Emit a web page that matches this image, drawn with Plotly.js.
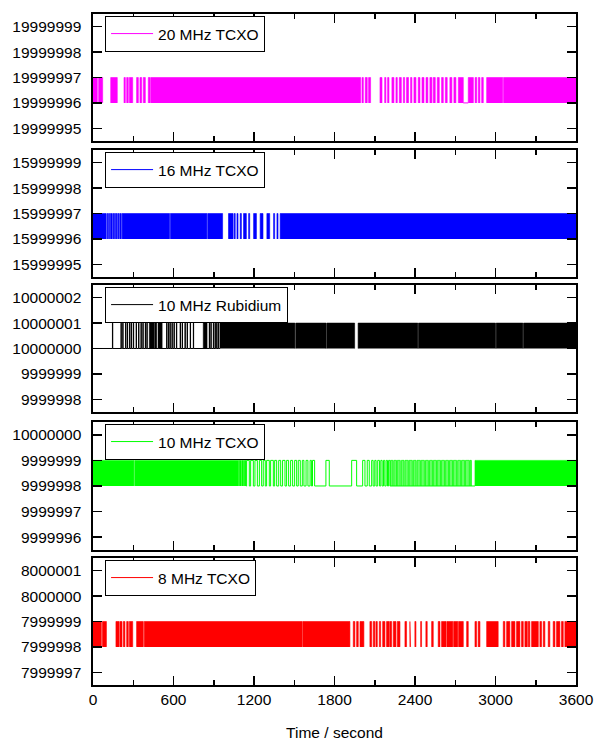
<!DOCTYPE html>
<html><head><meta charset="utf-8">
<script src="https://cdn.plot.ly/plotly-3.0.1.min.js"></script>
<style>html,body{margin:0;padding:0;background:#fff}#chart{width:594px;height:743px}</style>
</head><body><div id="chart"></div>
<script>
// ---- data (time in seconds, frequency counter reading in Hz) ----
const seriesNames = ['20 MHz TCXO', '16 MHz TCXO', '10 MHz Rubidium', '10 MHz TCXO', '8 MHz TCXO'];
const seriesColors = ['#ff00ff', '#0000ff', '#000000', '#00ff00', '#ff0000'];
const lowLevels  = [19999996, 15999996, 10000000, 9999998, 7999998];
const highLevels = [19999997, 15999997, 10000001, 9999999, 7999999];
const yTickLow   = [19999995, 15999995, 9999998, 9999996, 7999997];
const yTickHigh  = [19999999, 15999999, 10000002, 10000000, 8000001];

// intervals where the reading toggles faster than the plot resolves (solid band)
const bands20 = [[0,32],[42,72],[132,181],[231,241],[251,263],[271,296],[325,338],[350,363],[375,390],[412,425],[430,1995],[2005,2015],[2029,2044],[2054,2069],[2139,2154],[2174,2183],[2196,2206],[2228,2243],[2258,2268],[2283,2298],[2313,2323],[2337,2352],[2367,2377],[2392,2407],[2424,2437],[2452,2467],[2482,2496],[2511,2526],[2536,2551],[2566,2581],[2598,2611],[2626,2640],[2660,2675],[2690,2705],[2723,2760],[2797,2835],[2848,2860],[2872,2884],[2897,2909],[2934,3054],[3060,3600]];
const steady20 = [[2760,2797]];
const pulses20 = [];

const bands16 = [[0,97],[103,110],[116,124],[130,144],[150,161],[167,178],[184,193],[199,211],[217,571],[577,849],[855,966],[1010,1044],[1052,1060],[1073,1081],[1097,1106],[1122,1143],[1160,1168],[1197,1218],[1246,1267],[1296,1317],[1346,1354],[1371,1379],[1395,3600]];
const steady16 = [];
const pulses16 = [];

const bands10rb = [[420,457],[462,475],[490,515],[822,850],[946,1505],[1511,1737],[1742,1950],[1976,2421],[2426,3000],[3005,3204],[3209,3600]];
const steady10rb = [[0,946]];
const pulses10rb = [[145,147],[209,211],[222,224],[243,245],[256,258],[273,275],[286,288],[301,303],[322,324],[340,342],[358,360],[372,374],[390,392],[402,404],[487,489],[549,551],[562,564],[574,576],[589,591],[604,606],[622,624],[650,652],[665,667],[686,688],[702,704],[725,727],[748,750],[867,869],[879,881],[897,899],[910,912],[922,924],[934,936]];

const bands10 = [[0,305],[311,1085],[1090,1105],[1110,1122],[1127,1140],[2847,3600]];
const hatch10 = [[2218,2235],[2242,2262],[2268,2290],[2298,2318],[2325,2350],[2356,2380],[2388,2408],[2415,2440],[2446,2470],[2478,2500],[2508,2530],[2537,2560],[2566,2590],[2597,2620],[2628,2650],[2657,2680],[2686,2710],[2718,2740],[2747,2770],[2776,2805],[2810,2820]];
const steady10 = [[1140,2847]];
const pulses10 = [[1145,1165],[1175,1195],[1207,1225],[1240,1257],[1269,1284],[1294,1314],[1324,1344],[1354,1369],[1384,1399],[1413,1431],[1443,1458],[1473,1488],[1503,1518],[1530,1545],[1560,1572],[1588,1602],[1618,1628],[1636,1652],[1736,1761],[1928,1965],[2010,2027],[2044,2059],[2077,2088],[2100,2110],[2122,2135],[2145,2155],[2165,2175],[2185,2195],[2203,2213]];

const bands8 = [[0,62],[70,100],[171,194],[200,216],[226,238],[251,263],[271,296],[325,375],[382,1560],[1565,1915],[1940,1952],[1965,1977],[1990,2019],[2064,2077],[2089,2101],[2109,2119],[2134,2144],[2159,2176],[2188,2208],[2213,2226],[2238,2258],[2268,2288],[2325,2337],[2362,2367],[2399,2407],[2442,2449],[2481,2491],[2524,2536],[2573,2586],[2598,2632],[2638,2682],[2688,2719],[2725,2760],[2785,2797],[2847,2859],[2871,2884],[2934,3020],[3058,3070],[3083,3107],[3120,3145],[3157,3182],[3194,3207],[3219,3237],[3244,3256],[3269,3319],[3331,3343],[3356,3368],[3393,3405],[3430,3443],[3455,3480],[3492,3505],[3517,3600]];
const steady8 = [];
const pulses8 = [];

const allBands   = [bands20, bands16, bands10rb, bands10, bands8];
const allHatch   = [[], [], [], hatch10, []];
const allSteady  = [steady20, steady16, steady10rb, steady10, steady8];
const allPulses  = [pulses20, pulses16, pulses10rb, pulses10, pulses8];

// ---- layout geometry ----
const domains = [[0.8107,1],[0.6080,0.7973],[0.4069,0.5961],[0.2012,0.3920],[0,0.1893]];
const legendY = [0.997, 0.7943, 0.5931, 0.3890, 0.1863];
const FONT = 'Liberation Sans, Arial, sans-serif';
const FS = 15.5;

const traces = [];
const layout = {
  width: 594, height: 743,
  margin: {l: 93, r: 18, t: 14, b: 58},
  paper_bgcolor: '#fff', plot_bgcolor: '#fff',
  font: {family: FONT, size: FS, color: '#000'},
  showlegend: true
};

function sub(i) { return i === 0 ? '' : String(i + 1); }

for (let i = 0; i < 5; i++) {
  const xa = 'x' + sub(i), ya = 'y' + sub(i);
  const lo = lowLevels[i], hi = highLevels[i], c = seriesColors[i];
  const bx = [], by = [];
  allBands[i].forEach(([s, e]) => { bx.push(s, s, e, e, null); by.push(lo, hi, hi, lo, null); });
  traces.push({type: 'scatter', mode: 'lines', x: bx, y: by, fill: 'toself', fillcolor: c,
    line: {color: c, width: 0.6}, xaxis: xa, yaxis: ya, showlegend: false, hoverinfo: 'skip'});
  if (allHatch[i].length) {
    const hx = [], hy = [];
    allHatch[i].forEach(([s, e]) => { hx.push(s, s, e, e, null); hy.push(lo, hi, hi, lo, null); });
    traces.push({type: 'scatter', mode: 'lines', x: hx, y: hy, fill: 'toself', fillcolor: 'rgba(0,255,0,0.6)',
      line: {color: c, width: 0.8}, xaxis: xa, yaxis: ya, showlegend: false, hoverinfo: 'skip'});
  }
  allSteady[i].forEach(([from, to]) => {
    const sx = [from], sy = [lo];
    allPulses[i].filter(p => p[0] >= from && p[1] <= to).forEach(([s, e]) => { sx.push(s, e); sy.push(hi, lo); });
    sx.push(to); sy.push(lo);
    traces.push({type: 'scatter', mode: 'lines', x: sx, y: sy, line: {color: c, width: 1, shape: 'hv'},
      xaxis: xa, yaxis: ya, showlegend: false, hoverinfo: 'skip'});
  });
  const lg = 'legend' + sub(i);
  traces.push({type: 'scatter', mode: 'lines', x: [null], y: [null], name: seriesNames[i],
    line: {color: c, width: 1}, xaxis: xa, yaxis: ya, legend: lg, showlegend: true});
  layout[lg] = {x: 0.025, y: legendY[i], xanchor: 'left', yanchor: 'top',
    bgcolor: '#fff', bordercolor: '#000', borderwidth: 1, itemwidth: 42,
    font: {family: FONT, size: FS, color: '#000'}};

  layout['xaxis' + sub(i)] = {
    domain: [0, 1], anchor: ya, range: [0, 3600], tick0: 0, dtick: 600,
    ticks: 'inside', ticklen: 9, tickwidth: 1.5, tickcolor: '#000',
    showline: true, linewidth: 1.6, linecolor: '#000', mirror: 'allticks',
    minor: {ticks: 'inside', dtick: 300, tick0: 0, ticklen: 5, tickwidth: 1.5, tickcolor: '#000'},
    showgrid: false, zeroline: false, showticklabels: i === 4,
    tickfont: {family: FONT, size: FS, color: '#000'},
    matches: i === 0 ? undefined : 'x'
  };
  if (i === 4) {
    layout['xaxis5'].title = {text: 'Time / second', font: {family: FONT, size: FS, color: '#000'}, standoff: 20};
  }
  layout['yaxis' + sub(i)] = {
    domain: domains[i], anchor: xa, range: [yTickLow[i] - 0.5, yTickHigh[i] + 0.5],
    tick0: yTickLow[i], dtick: 1, tickformat: 'd',
    ticks: 'inside', ticklen: 9, tickwidth: 1.5, tickcolor: '#000',
    showline: true, linewidth: 1.6, linecolor: '#000', mirror: 'allticks',
    showgrid: false, zeroline: false, ticklabelstandoff: 7,
    tickfont: {family: FONT, size: FS, color: '#000'}
  };
}

Plotly.newPlot('chart', traces, layout, {staticPlot: true, displayModeBar: false});
</script>
</body></html>
